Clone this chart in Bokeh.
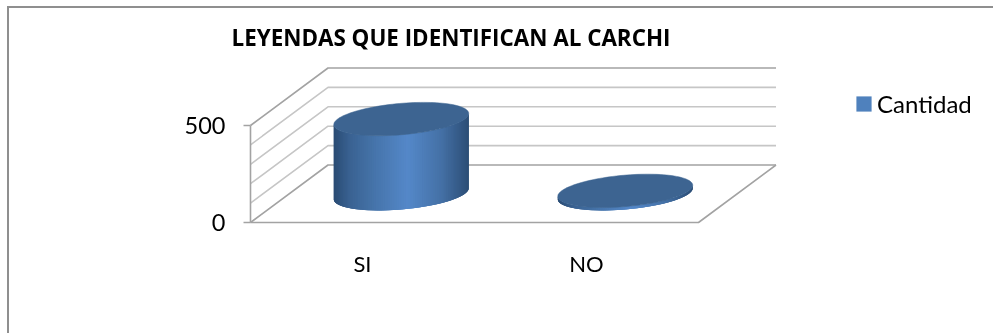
import math
from bokeh.plotting import figure
from bokeh.models import LinearAxis, FixedTicker, Range1d, Legend, LegendItem, Title
from bokeh.embed import file_html
from bokeh.resources import INLINE

categories = ["SI", "NO"]
values = [385, 15]
y_ticks = [0, 500]
grid_levels = [0, 100, 200, 300, 400, 500]
title_text = "LEYENDAS QUE IDENTIFICAN AL CARCHI"
series_name = "Cantidad"

W, FH, TOP = 984, 281, 44
H = FH + TOP
X0, Y0 = 9, 8                # page position of the figure
PX_PER_CAT, PX_PER_VAL = 224.0, 97.0 / 500
CAT0_PX, ZERO_PX = 362.0, 222.0
DX = 77.5 / PX_PER_CAT       # depth shift, category units
DY = 57.5 / PX_PER_VAL       # depth shift, value units
R, D = 0.284, 0.29           # cylinder radius, relative depth radius

frame_top = Y0 + TOP
x_range = Range1d((X0 - CAT0_PX) / PX_PER_CAT, (X0 + W - CAT0_PX) / PX_PER_CAT)
y_range = Range1d((ZERO_PX - (Y0 + H)) / PX_PER_VAL, (ZERO_PX - frame_top) / PX_PER_VAL)

p = figure(width=W, height=H, frame_width=W, frame_height=FH, x_range=x_range, y_range=y_range,
           output_backend="svg", toolbar_location=None, min_border=0, min_border_top=TOP,
           x_axis_type=None, y_axis_type=None, outline_line_color=None)
p.grid.visible = False
p.styles = {"position": "fixed", "left": "7px", "top": "6px",
            "border-left": "2px solid #8f8f8f", "border-top": "2px solid #8f8f8f"}

p.title = Title(text=title_text, text_font="Open Sans", text_font_size="22.4px", text_font_style="bold",
                text_color="#000000", offset=222, standoff=0, align="left")

left = -0.5
right = len(categories) - 0.5
for lv in grid_levels:
    strong = lv in (grid_levels[0], grid_levels[-1])
    col = "#a3a3a3" if strong else "#c6c6c6"
    p.line([left, left + DX, right + DX], [lv, lv + DY, lv + DY], line_color=col, line_width=1.6)
p.line([left, right, right + DX], [0, 0, DY], line_color="#a3a3a3", line_width=1.6)

STOPS = [(0.0, (42, 76, 116)), (0.12, (58, 98, 146)), (0.3, (70, 116, 170)),
         (0.55, (84, 136, 201)), (0.8, (68, 112, 165)), (1.0, (44, 78, 118))]

def shade(f):
    for (a, ca), (b, cb) in zip(STOPS, STOPS[1:]):
        if f <= b:
            k = (f - a) / (b - a)
            return "#%02x%02x%02x" % tuple(round(u + (w - u) * k) for u, w in zip(ca, cb))
    return "#2c4e76"

A, B = D * DX, D * DY
T0 = math.atan2(A, R)
EXT = math.hypot(R, A)

def ell(c, v, t):
    return (c + 0.5 * DX + R * math.cos(t) + A * math.sin(t), v + 0.5 * DY + B * math.sin(t))

xs, ys, cols, tx, ty = [], [], [], [], []
N = 90
for i, v in enumerate(values):
    c = i
    for k in range(N):
        t1 = T0 + math.pi + math.pi * k / N
        t2 = T0 + math.pi + math.pi * min(k + 3, N) / N   # overlap the next strips to hide seams
        xa, ya = ell(c, 0, t1)
        xb, yb = ell(c, 0, t2)
        xm, _ = ell(c, 0, T0 + math.pi + math.pi * (k + 0.5) / N)
        xs.append([xa, xb, xb, xa])
        ys.append([ya, yb, yb + v, ya + v])
        cols.append(shade((xm - (c + 0.5 * DX) + EXT) / (2 * EXT)))
    pts = [ell(c, v, 2 * math.pi * k / 120) for k in range(120)]
    tx.append([q[0] for q in pts])
    ty.append([q[1] for q in pts])

p.patches(xs, ys, fill_color=cols, line_color=None)
p.patches(tx, ty, fill_color="#3d6491", line_color="#3d6491", line_width=0.5)

yax = LinearAxis(ticker=FixedTicker(ticks=y_ticks), fixed_location=left, bounds=(0, 500),
                 major_label_text_font="Lato", major_label_text_font_size="23.5px",
                 major_label_text_color="#000000", axis_line_color="#a3a3a3", axis_line_width=1.6,
                 major_tick_line_color="#a3a3a3", major_tick_line_width=1.6,
                 major_tick_in=0, major_tick_out=7, minor_tick_line_color=None, major_label_standoff=18)
p.add_layout(yax, "left")
xax = LinearAxis(ticker=FixedTicker(ticks=list(range(len(categories)))), fixed_location=0,
                 major_label_overrides={i: c for i, c in enumerate(categories)},
                 major_label_text_font="Lato", major_label_text_font_size="22px",
                 major_label_text_color="#000000", axis_line_color=None,
                 major_tick_line_color=None, minor_tick_line_color=None, major_label_standoff=21)
p.add_layout(xax, "below")

# legend swatch: a one-off quad outside the visible range
swatch = p.quad(left=[20], right=[21], top=[-9000], bottom=[-9100], fill_color="#4f81bd", line_color=None)
legend = Legend(items=[LegendItem(label=series_name, renderers=[swatch])],
                location=(845, 215), background_fill_alpha=0, border_line_color=None,
                glyph_width=19, glyph_height=19, label_text_font="Lato", label_text_font_size="24px",
                label_text_color="#000000", padding=0, margin=0, label_standoff=4)
p.add_layout(legend, "center")

open("out.html", "w").write(file_html(p, INLINE))
